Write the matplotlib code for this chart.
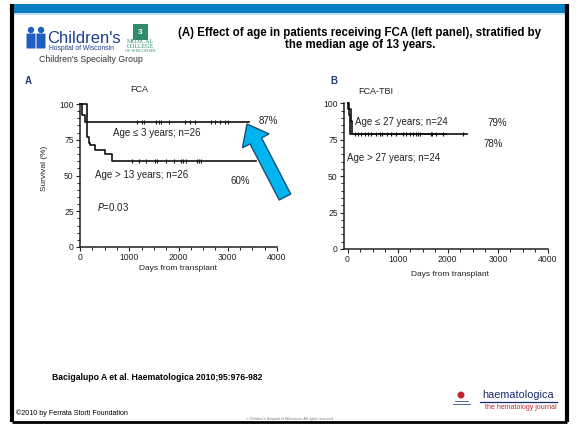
import matplotlib
matplotlib.use("Agg")
import matplotlib.pyplot as plt
from matplotlib import font_manager
from matplotlib.patches import FancyArrow, Rectangle, Circle, FancyBboxPatch
from matplotlib.ticker import MultipleLocator

# Kaplan-Meier curves, panel A (FCA): age <= 3 years vs > 13 years
fca_young_days = [0, 50, 100, 3430]
fca_young_surv = [100, 92.3, 87.6, 87.6]
fca_young_cens = [1150, 1250, 1300, 1550, 1600, 1650, 1800, 2130, 2230, 2330,
                  2670, 2740, 2840, 2940, 3000]
fca_old_days = [0, 135, 150, 175, 210, 300, 510, 640, 3580]
fca_old_surv = [100, 81, 77, 73, 71, 68, 65, 60, 60]
fca_old_cens = [1050, 1200, 1350, 1520, 1560, 1750, 1900, 2050, 2100, 2150,
                2370, 2420, 2450]

# panel B (FCA-TBI): age <= 27 years vs > 27 years
tbi_young_days = [0, 5, 60, 90, 2380]
tbi_young_surv = [100, 96, 88, 79.2, 79.2]
tbi_young_cens = [145, 278, 410, 563, 695, 875, 1106, 1239, 1372, 1438, 1670,
                  1770, 2300]
tbi_old_days = [0, 25, 50, 1960]
tbi_old_surv = [100, 92, 78.8, 78.8]
tbi_old_cens = [211, 344, 477, 642, 788, 974, 1173, 1305, 1400, 1690, 1901]

y_ticks = [0, 25, 50, 75, 100]
x_ticks = [0, 1000, 2000, 3000, 4000]

W, H = 576, 424

available = {f.name for f in font_manager.fontManager.ttflist}
narrow = "Liberation Sans Narrow" if "Liberation Sans Narrow" in available else "Liberation Sans"
plt.rcParams["font.family"] = ["Liberation Sans", "DejaVu Sans"]

fig = plt.figure(figsize=(W / 100, H / 100), dpi=100)

# overlay in pixel coordinates for the slide furniture
bg = fig.add_axes([0, 0, 1, 1])
bg.set_xlim(0, W)
bg.set_ylim(H, 0)
bg.axis("off")

# top banner and frame
bg.add_patch(Rectangle((12, 4), 555, 9, color="#0b7fc3", lw=0))
bg.add_patch(Rectangle((12, 13), 555, 2, color="#bfe3f5", lw=0))
bg.plot([12, 12], [4, 422], color="black", lw=3, solid_capstyle="butt")
bg.plot([567, 567], [4, 422], color="black", lw=3, solid_capstyle="butt")
bg.plot([12, 567], [421.5, 421.5], color="black", lw=2, solid_capstyle="butt")

# Children's Hospital logo
blue = "#1f5fbf"
for cx in [31, 41]:
    bg.add_patch(Circle((cx, 30), 3.2, color=blue, lw=0))
    bg.add_patch(FancyBboxPatch((cx - 4, 34), 8, 14, boxstyle="round,pad=0.5",
                                color=blue, lw=0))
bg.text(47, 43, "Children's", fontsize=12, color="#1b3f8f", ha="left",
        va="baseline")
bg.text(49, 49.5, "Hospital of Wisconsin", fontsize=4.9, color="#1b3f8f",
        ha="left", va="baseline")
bg.text(39, 62, "Children's Specialty Group", fontsize=6.3, color="#333333",
        ha="left", va="baseline")
green = "#2e8b6e"
bg.add_patch(Rectangle((133, 24), 15, 16, color=green, lw=0))
bg.text(140.5, 32, "3", fontsize=6, color="white", ha="center", va="center",
        fontweight="bold")
bg.text(140.5, 44, "MEDICAL\nCOLLEGE", fontsize=4.3, color=green, ha="center",
        va="center", linespacing=0.85, family="Liberation Serif")
bg.text(140.5, 51, "OF WISCONSIN", fontsize=3.2, color=green, ha="center",
        va="center", family="Liberation Serif")

# slide title
bg.text(360, 39, "(A) Effect of age in patients receiving FCA (left panel), stratified by\n"
        "the median age of 13 years.", fontsize=8.3, fontweight="bold",
        ha="center", va="center", linespacing=1.0)

# citation and footers
bg.text(52, 378, "Bacigalupo A et al. Haematologica 2010;95:976-982",
        fontsize=6.2, fontweight="bold", ha="left", va="center")
bg.text(16, 413, "\u00a92010 by Ferrata Storti Foundation", fontsize=5.1,
        ha="left", va="center")
bg.text(290, 419, "\u00a9 Children's Hospital of Wisconsin. All rights reserved.",
        fontsize=2.6, color="#777777", ha="center", va="center")

# haematologica logo
bg.add_patch(Circle((461, 395), 3.5, color="#c0272d", lw=0))
bg.plot([455, 468], [401, 401], color="#3a4a8a", lw=0.6)
bg.plot([453, 470], [404, 404], color="#3a4a8a", lw=0.6)
bg.text(482, 398, "haematologica", fontsize=7.8, color="#1a2a6c", ha="left",
        va="baseline")
bg.plot([480, 557], [401.5, 401.5], color="#1a2a6c", lw=0.9)
bg.text(557, 409, "the hematology journal", fontsize=5, color="#c0272d",
        ha="right", va="baseline")


def km_panel(rect, xmin):
    ax = fig.add_axes(rect)
    ax.set_xlim(xmin, 4000)
    ax.set_ylim(0, 100)
    ax.set_xticks(x_ticks)
    ax.set_yticks(y_ticks)
    ax.xaxis.set_minor_locator(MultipleLocator(250))
    ax.yaxis.set_minor_locator(MultipleLocator(5))
    ax.spines["top"].set_visible(False)
    ax.spines["right"].set_visible(False)
    for side in ["left", "bottom"]:
        ax.spines[side].set_linewidth(1.1)
        ax.spines[side].set_color("#222222")
    ax.tick_params(which="major", length=3, width=0.8, labelsize=6.2, pad=1.5,
                   colors="#222222")
    ax.tick_params(which="minor", length=2, width=0.7, colors="#222222")
    for lab in ax.get_xticklabels() + ax.get_yticklabels():
        lab.set_family(narrow)
    ax.patch.set_alpha(0)
    return ax


def km_curve(ax, days, surv, cens, lw=1.2):
    ax.step(days, surv, where="post", color="#111111", lw=lw, clip_on=False)
    cens_y = [surv[[i for i, d in enumerate(days) if d <= c][-1]] for c in cens]
    ax.plot(cens, cens_y, ls="none", marker="|", ms=3, mew=0.8,
            color="#111111", clip_on=False)


ax_a = km_panel([80 / W, 1 - 247 / H, 197 / W, 143 / H], 0)
km_curve(ax_a, fca_young_days, fca_young_surv, fca_young_cens)
km_curve(ax_a, fca_old_days, fca_old_surv, fca_old_cens)

ax_b = km_panel([344 / W, 1 - 249 / H, 204 / W, 145.7 / H], -70)
km_curve(ax_b, tbi_young_days, tbi_young_surv, tbi_young_cens)
km_curve(ax_b, tbi_old_days, tbi_old_surv, tbi_old_cens)

# panel annotations
tk = dict(family=narrow, color="#222222", ha="center", va="center")
bg.text(28, 81, "A", fontsize=7, fontweight="bold", color="#1a3a7a",
        ha="center", va="center")
bg.text(334, 81, "B", fontsize=7, fontweight="bold", color="#1a3a7a",
        ha="center", va="center")
bg.text(139, 90, "FCA", fontsize=6.5, **tk)
bg.text(376, 92, "FCA-TBI", fontsize=6.5, **tk)
bg.text(45, 168, "Survival (%)", fontsize=6, rotation=90, **tk)
bg.text(178, 268, "Days from transplant", fontsize=6, **tk)
bg.text(450, 275, "Days from transplant", fontsize=6, **tk)

bg.text(268, 121, "87%", fontsize=7, **tk)
bg.text(157, 133, "Age \u2264 3 years; n=26", fontsize=7, **tk)
bg.text(142, 175, "Age > 13 years; n=26", fontsize=7, **tk)
bg.text(240, 181, "60%", fontsize=7, **tk)
bg.text(113, 207, "$\\it{P}$=0.03", fontsize=7, **tk)

bg.text(401, 122, "Age \u2264 27 years; n=24", fontsize=7, **tk)
bg.text(497, 123, "79%", fontsize=7, **tk)
bg.text(493, 144, "78%", fontsize=7, **tk)
bg.text(394, 158, "Age > 27 years; n=24", fontsize=7, **tk)

# callout arrow towards the end of the upper FCA curve
tail_x, tail_y, tip_x, tip_y = 285, 197, 247, 124
bg.add_patch(FancyArrow(tail_x, tail_y, tip_x - tail_x, tip_y - tail_y,
                        width=13, head_width=30, head_length=19,
                        length_includes_head=True, facecolor="#00b4f0",
                        edgecolor="#1f4e79", lw=1.0, zorder=5))

fig.savefig("out.png", dpi=100)
